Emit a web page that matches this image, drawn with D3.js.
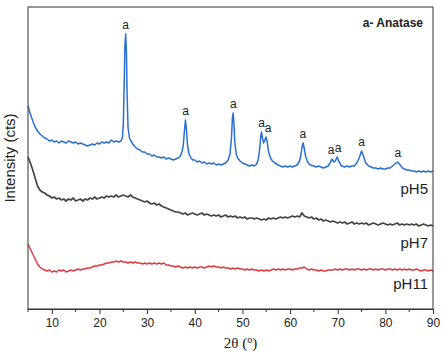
<!DOCTYPE html>
<html>
<head>
<meta charset="utf-8">
<script src="https://cdn.jsdelivr.net/npm/d3@7"></script>
<style>
  html, body { margin: 0; padding: 0; background: #fff; }
  svg { display: block; font-family: "Liberation Sans", Arial, sans-serif; }
</style>
</head>
<body>
<div id="chart"></div>
<script>
// XRD patterns, 2θ in degrees, intensity in counts

// pH5 sample, non-uniform steps so the sharp anatase peaks keep their shape
const ph5Theta = [
  5, 5.5, 6, 6.5, 7, 7.5, 8, 8.5, 9, 9.5,
  10, 10.5, 11, 11.5, 12, 12.5, 13, 13.5, 14, 14.5,
  15, 15.5, 16, 16.5, 17, 17.5, 18, 18.5, 19, 19.5,
  20, 20.5, 21, 21.5, 22, 22.5, 23, 23.5, 24, 24.5,
  24.8, 25, 25.2, 25.35, 25.5, 25.65, 25.8, 26, 26.3, 26.6,
  27, 27.5, 28, 28.5, 29, 29.5, 30, 30.5, 31, 31.5,
  32, 32.5, 33, 33.5, 34, 34.5, 35, 35.5, 36, 36.5,
  37, 37.3, 37.6, 37.85, 38.05, 38.25, 38.5, 38.8, 39.2, 39.6,
  40, 40.5, 41, 41.5, 42, 42.5, 43, 43.5, 44, 44.5,
  45, 45.5, 46, 46.5, 47, 47.4, 47.7, 47.9, 48.05, 48.2,
  48.4, 48.7, 49, 49.5, 50, 50.5, 51, 51.5, 52, 52.5,
  53, 53.3, 53.6, 53.85, 54, 54.2, 54.45, 54.7, 54.95, 55.2,
  55.5, 55.9, 56.3, 56.8, 57.5, 58, 58.5, 59, 59.5, 60,
  60.5, 61, 61.5, 62, 62.3, 62.55, 62.75, 62.95, 63.3, 63.7,
  64.2, 65, 65.5, 66, 66.5, 67, 67.5, 68, 68.4, 68.8,
  69.2, 69.5, 69.9, 70.3, 70.8, 71.5, 72, 72.5, 73, 73.5,
  74, 74.5, 75, 75.4, 75.9, 76.5, 77, 77.5, 78, 78.5,
  79, 79.5, 80, 80.5, 81, 81.5, 82, 82.6, 83.1, 83.6,
  84, 84.5, 85, 85.5, 86, 86.5, 87, 87.5, 88, 88.5,
  89, 89.5, 90
];
const ph5Cts = [
  2030, 1950, 1880, 1820, 1780, 1750, 1730, 1710, 1700, 1680,
  1690, 1670, 1680, 1660, 1680, 1670, 1660, 1680, 1670, 1660,
  1670, 1650, 1660, 1650, 1640, 1630, 1640, 1650, 1640, 1660,
  1650, 1670, 1660, 1670, 1660, 1690, 1670, 1680, 1670, 1680,
  1710, 1840, 2290, 2640, 2750, 2590, 2140, 1810, 1710, 1680,
  1650, 1620, 1600, 1590, 1570, 1570, 1550, 1550, 1530, 1540,
  1520, 1520, 1510, 1520, 1500, 1510, 1500, 1490, 1500, 1510,
  1530, 1570, 1640, 1790, 1890, 1790, 1630, 1550, 1510, 1490,
  1490, 1470, 1480, 1460, 1470, 1450, 1460, 1450, 1460, 1440,
  1450, 1440, 1450, 1460, 1490, 1550, 1710, 1910, 1960, 1870,
  1670, 1550, 1510, 1480, 1460, 1450, 1440, 1430, 1440, 1430,
  1450, 1490, 1590, 1730, 1770, 1710, 1660, 1690, 1720, 1670,
  1570, 1510, 1480, 1460, 1440, 1430, 1420, 1430, 1420, 1430,
  1420, 1430, 1440, 1480, 1550, 1630, 1660, 1610, 1520, 1470,
  1440, 1430, 1420, 1430, 1420, 1410, 1420, 1430, 1460, 1500,
  1470, 1480, 1520, 1470, 1430, 1420, 1430, 1420, 1430, 1430,
  1460, 1510, 1580, 1530, 1460, 1430, 1420, 1410, 1410, 1400,
  1410, 1400, 1400, 1410, 1410, 1430, 1450, 1470, 1440, 1410,
  1400, 1390, 1390, 1380, 1380, 1370, 1380, 1370, 1380, 1370,
  1380, 1370, 1380
];

// pH7 and pH11 samples, 0.5° step from 5° to 90°
const scanTheta = d3.range(5, 90.001, 0.5);
const ph7Cts = [
  1520, 1460, 1390, 1310, 1230, 1190, 1170, 1160, 1140, 1130,
  1110, 1120, 1100, 1110, 1090, 1100, 1080, 1100, 1090, 1110,
  1080, 1090, 1100, 1080, 1100, 1090, 1110, 1100, 1120, 1100,
  1110, 1120, 1110, 1130, 1120, 1130, 1120, 1140, 1120, 1130,
  1140, 1130, 1120, 1140, 1120, 1110, 1100, 1090, 1080, 1070,
  1080, 1060, 1050, 1060, 1040, 1050, 1030, 1020, 1010, 1000,
  990, 980, 970, 970, 960, 950, 960, 940, 950, 960,
  950, 940, 950, 960, 940, 950, 940, 930, 940, 930,
  940, 920, 930, 940, 920, 930, 920, 930, 910, 920,
  910, 920, 900, 910, 910, 900, 910, 900, 890, 900,
  890, 910, 900, 910, 900, 910, 920, 910, 920, 910,
  920, 930, 920, 930, 920, 960, 930, 920, 910, 920,
  900, 910, 890, 900, 880, 890, 880, 870, 880, 870,
  860, 870, 860, 870, 850, 860, 870, 850, 860, 850,
  860, 850, 860, 840, 850, 860, 850, 840, 850, 860,
  850, 840, 850, 840, 850, 860, 840, 850, 840, 850,
  840, 850, 840, 850, 830, 840, 850, 840, 830, 840,
  830
];
const ph11Cts = [
  650, 600, 550, 500, 450, 420, 400, 390, 380, 390,
  370, 380, 370, 390, 380, 390, 370, 380, 390, 380,
  390, 400, 390, 400, 400, 410, 410, 420, 430, 430,
  440, 440, 450, 460, 460, 470, 470, 480, 470, 480,
  470, 470, 460, 470, 460, 470, 460, 460, 450, 460,
  450, 460, 450, 460, 450, 460, 450, 460, 440, 440,
  430, 430, 420, 430, 420, 410, 420, 410, 420, 410,
  420, 410, 420, 420, 410, 420, 430, 420, 430, 420,
  420, 410, 420, 410, 410, 400, 410, 400, 410, 400,
  400, 390, 400, 390, 400, 390, 390, 380, 390, 380,
  390, 380, 390, 400, 390, 400, 390, 400, 390, 400,
  400, 390, 400, 400, 410, 410, 420, 400, 390, 400,
  390, 390, 380, 390, 380, 380, 390, 390, 390, 400,
  390, 400, 390, 400, 400, 390, 400, 390, 400, 400,
  390, 400, 390, 400, 400, 390, 400, 390, 400, 400,
  390, 400, 400, 390, 400, 390, 400, 390, 400, 390,
  400, 390, 390, 400, 390, 380, 390, 390, 380, 390,
  380
];

// anatase reflections marked with "a"
const anataseTheta = [25.5, 38.1, 48.1, 54.0, 55.4, 62.7, 68.6, 70.1, 75.0, 82.6];

const xTicks = [10, 20, 30, 40, 50, 60, 70, 80, 90];
const xMinorTicks = [5, 15, 25, 35, 45, 55, 65, 75, 85];

const series = [
  { name: "pH5", theta: ph5Theta, cts: ph5Cts, color: "#2a6fd6", width: 1.5, labelY: 194 },
  { name: "pH7", theta: scanTheta, cts: ph7Cts, color: "#444444", width: 1.7, labelY: 247.5 },
  { name: "pH11", theta: scanTheta, cts: ph11Cts, color: "#e0393e", width: 1.4, labelY: 289 }
];

const W = 447, H = 354;
const margin = { top: 7, right: 14, bottom: 45, left: 28 };
const innerW = W - margin.left - margin.right;
const innerH = H - margin.top - margin.bottom;

const svg = d3.select("#chart").append("svg")
  .attr("width", W).attr("height", H);
const g = svg.append("g")
  .attr("transform", `translate(${margin.left},${margin.top})`);

const x = d3.scaleLinear().domain([5, 90]).range([0, innerW]);
const y = d3.scaleLinear().domain([0, 3020]).range([innerH, 0]);

// traces
const line = d3.line().x(d => x(d[0])).y(d => y(d[1]));
series.forEach(s => {
  const pts = s.theta.map((t, i) => [t, s.cts[i]]).filter(d => d[1] != null);
  g.append("path")
    .datum(pts)
    .attr("fill", "none")
    .attr("stroke", s.color)
    .attr("stroke-width", s.width)
    .attr("stroke-linejoin", "round")
    .attr("d", line);

  g.append("text")
    .attr("x", innerW - 5)
    .attr("y", s.labelY - margin.top)
    .attr("text-anchor", "end")
    .style("font-size", "15px")
    .style("fill", "#222")
    .text(s.name);
});

// peak markers, placed just above the local maximum of the pH5 trace
const ph5Pts = ph5Theta.map((t, i) => [t, ph5Cts[i]]);
anataseTheta.forEach(t => {
  const near = ph5Pts.filter(d => Math.abs(d[0] - t) <= 0.45);
  const top = d3.max(near, d => d[1]);
  g.append("text")
    .attr("x", x(t))
    .attr("y", y(top) - 5)
    .attr("text-anchor", "middle")
    .style("font-size", "12px")
    .style("fill", "#222")
    .text("a");
});

g.append("text")
  .attr("x", innerW - 10)
  .attr("y", 20)
  .attr("text-anchor", "end")
  .style("font-size", "12px")
  .style("font-weight", 700)
  .style("fill", "#222")
  .text("a- Anatase");

// frame
g.append("rect")
  .attr("width", innerW).attr("height", innerH)
  .attr("fill", "none").attr("stroke", "#333").attr("stroke-width", 1);

// x axis
const xAxis = g.append("g")
  .attr("transform", `translate(0,${innerH})`)
  .call(d3.axisBottom(x).tickValues(xTicks).tickSize(5).tickPadding(4).tickSizeOuter(0));
xAxis.select(".domain").attr("stroke", "#333");
xAxis.selectAll(".tick line").attr("stroke", "#333");
xAxis.selectAll(".tick text")
  .style("font-size", "12px")
  .style("font-family", "'Liberation Sans', Arial, sans-serif")
  .attr("fill", "#222");

g.append("g")
  .attr("transform", `translate(0,${innerH})`)
  .selectAll("line")
  .data(xMinorTicks)
  .join("line")
  .attr("x1", d => x(d)).attr("x2", d => x(d))
  .attr("y1", 0).attr("y2", 3)
  .attr("stroke", "#333");

// axis titles
const xt = svg.append("text")
  .attr("x", margin.left + innerW / 2 + 10)
  .attr("y", 348)
  .attr("text-anchor", "middle")
  .style("font-family", "'Liberation Serif', 'Times New Roman', serif")
  .style("font-size", "15px")
  .style("fill", "#222");
xt.append("tspan").text("2θ (");
xt.append("tspan").attr("dy", -5).style("font-size", "10px").text("o");
xt.append("tspan").attr("dy", 5).text(")");

svg.append("text")
  .attr("transform", `translate(15,${margin.top + innerH / 2}) rotate(-90)`)
  .attr("text-anchor", "middle")
  .style("font-size", "15px")
  .style("fill", "#222")
  .text("Intensity (cts)");
</script>
</body>
</html>
